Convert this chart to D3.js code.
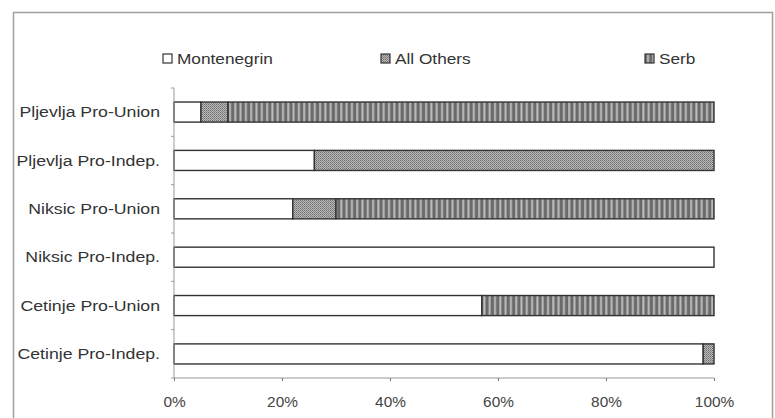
<!DOCTYPE html>
<html>
<head>
<meta charset="utf-8">
<script src="https://cdn.jsdelivr.net/npm/d3@7"></script>
<style>
  body { margin: 0; background: #fff; }
  text { font-family: "Liberation Sans", Arial, sans-serif; }
</style>
</head>
<body>
<div id="container"></div>
<script>
// categories top to bottom
var categories = ["Pljevlja Pro-Union", "Pljevlja Pro-Indep.", "Niksic Pro-Union",
                  "Niksic Pro-Indep.", "Cetinje Pro-Union", "Cetinje Pro-Indep."];
var seriesNames = ["Montenegrin", "All Others", "Serb"];
// shares in percent
var montenegrin = [5, 26, 22, 100, 57, 98];
var allOthers   = [5, 74, 8, 0, 0, 2];
var serb        = [90, 0, 70, 0, 43, 0];
var xTicks = [0, 20, 40, 60, 80, 100];

var W = 775, H = 418;
var svg = d3.select("#container").append("svg").attr("width", W).attr("height", H);

// patterns
var defs = svg.append("defs");
var pOthers = defs.append("pattern").attr("id", "pOthers")
  .attr("patternUnits", "userSpaceOnUse").attr("width", 2).attr("height", 2);
pOthers.append("rect").attr("width", 2).attr("height", 2).attr("fill", "#b8b8b8");
pOthers.append("rect").attr("width", 1).attr("height", 1).attr("fill", "#707070");
pOthers.append("rect").attr("x", 1).attr("y", 1).attr("width", 1).attr("height", 1).attr("fill", "#888");

var pSerb = defs.append("pattern").attr("id", "pSerb")
  .attr("patternUnits", "userSpaceOnUse").attr("width", 5.3).attr("height", 5);
pSerb.append("rect").attr("width", 5.3).attr("height", 5).attr("fill", "#6a6a6a");
pSerb.append("rect").attr("x", 2).attr("width", 2).attr("height", 5).attr("fill", "#bdbdbd");

var fills = ["#ffffff", "url(#pOthers)", "url(#pSerb)"];

// outer frame
svg.append("rect").attr("x", 13.5).attr("y", 12.5).attr("width", 759).attr("height", 420)
  .attr("fill", "none").attr("stroke", "#a0a0a0").attr("stroke-width", 1.5);

var margin = {top: 88, left: 174, right: 61, bottom: 40};
var width = W - margin.left - margin.right,
    height = 378 - margin.top;

var g = svg.append("g").attr("transform", "translate(" + margin.left + "," + margin.top + ")");

var x = d3.scaleLinear().domain([0, 100]).range([0, width]);
var y = d3.scaleBand().domain(categories).range([0, height]).paddingInner(0.585).paddingOuter(0.29);

// stacked data
var rows = categories.map(function(c, i) {
  return {cat: c, Montenegrin: montenegrin[i], "All Others": allOthers[i], Serb: serb[i]};
});
var stack = d3.stack().keys(seriesNames)(rows);

g.selectAll("g.series").data(stack).enter().append("g")
  .attr("class", "series")
  .attr("fill", function(d, i) { return fills[i]; })
  .selectAll("rect").data(function(d) { return d; }).enter().append("rect")
  .filter(function(d) { return d[1] - d[0] > 0; })
  .attr("x", function(d) { return x(d[0]); })
  .attr("width", function(d) { return x(d[1]) - x(d[0]); })
  .attr("y", function(d) { return y(d.data.cat); })
  .attr("height", y.bandwidth())
  .attr("stroke", "#333").attr("stroke-width", 1.4);

// x axis
var xAxis = d3.axisBottom(x).tickValues(xTicks).tickSize(3).tickPadding(16)
  .tickFormat(function(d) { return d + "%"; });
var gx = g.append("g").attr("transform", "translate(0," + height + ")").call(xAxis);
gx.select(".domain").attr("stroke", "#999").attr("d", "M0,0H" + width);
gx.selectAll(".tick line").attr("stroke", "#777");
gx.selectAll("text").attr("fill", "#444").style("font-size", "14px")
  .attr("transform", "scale(1.1,1)");

// y axis: line with ticks between categories
g.append("line").attr("x1", 0).attr("x2", 0).attr("y1", 0).attr("y2", height)
  .attr("stroke", "#999");
var step = height / categories.length;
g.selectAll("line.ytick").data(d3.range(categories.length + 1)).enter().append("line")
  .attr("class", "ytick")
  .attr("x1", -3).attr("x2", 0)
  .attr("y1", function(d) { return d * step; }).attr("y2", function(d) { return d * step; })
  .attr("stroke", "#999");
g.selectAll("text.ylab").data(categories).enter().append("text")
  .attr("class", "ylab")
  .attr("transform", function(d) {
    return "translate(-14," + (y(d) + y.bandwidth() / 2) + ") scale(1.18,1)";
  })
  .attr("dy", "0.35em")
  .attr("text-anchor", "end")
  .attr("fill", "#333")
  .style("font-size", "15px")
  .text(function(d) { return d; });

// legend
var legendX = [163, 381, 645];
var lg = svg.selectAll("g.legend").data(seriesNames).enter().append("g")
  .attr("class", "legend")
  .attr("transform", function(d, i) { return "translate(" + legendX[i] + ",59)"; });
lg.append("rect").attr("x", 0).attr("y", -5).attr("width", 9).attr("height", 9)
  .attr("fill", function(d, i) { return fills[i]; })
  .attr("stroke", "#333").attr("stroke-width", 1.2);
lg.append("text")
  .attr("transform", "translate(14,0) scale(1.15,1)")
  .attr("dy", "0.35em")
  .attr("fill", "#333").style("font-size", "15px")
  .text(function(d) { return d; });
</script>
</body>
</html>
